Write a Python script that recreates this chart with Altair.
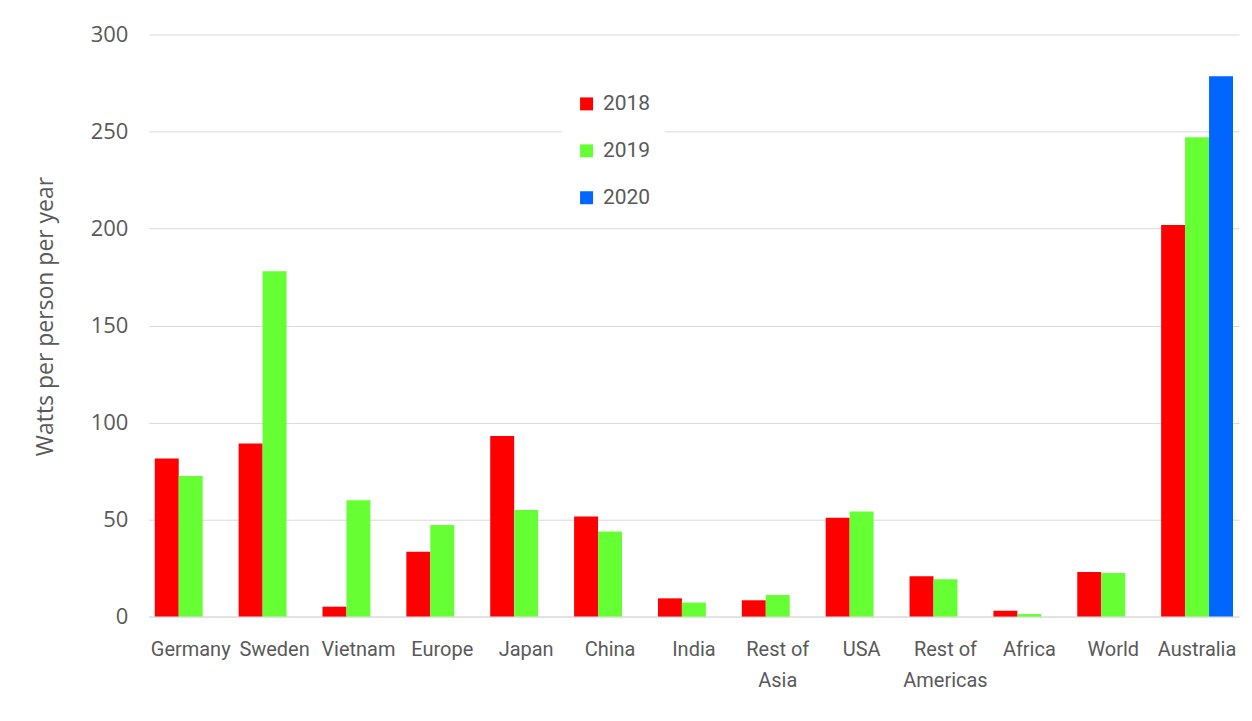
import altair as alt
import pandas as pd

categories = ["Germany", "Sweden", "Vietnam", "Europe", "Japan", "China", "India",
              "Rest of Asia", "USA", "Rest of Americas", "Africa", "World", "Australia"]
years = ["2018", "2019", "2020"]
values_2018 = [81.5, 89.2, 5.1, 33.4, 93.1, 51.6, 9.4, 8.4, 50.9, 20.8, 3.0, 23.0, 201.8]
values_2019 = [72.5, 178.0, 59.9, 47.2, 54.9, 43.9, 7.2, 11.1, 54.2, 19.2, 1.3, 22.5, 247.1]
values_2020 = [None] * 12 + [278.5]
colors = ["#FF0000", "#66FF33", "#0066FF"]

rows = []
for year, vals in zip(years, [values_2018, values_2019, values_2020]):
    for c, v in zip(categories, vals):
        if v is not None:
            rows.append({"category": c, "year": year, "value": v})
df = pd.DataFrame(rows)

label_font = "Roboto"
grey = "#595959"

chart = alt.Chart(df).mark_bar().encode(
    x=alt.X(
        "category:N", sort=categories, title=None,
        scale=alt.Scale(paddingInner=0.143, paddingOuter=0.0715),
        axis=alt.Axis(
            labelAngle=0, ticks=False, domainColor="#d9d9d9", labelFont=label_font,
            labelFontSize=20, labelColor=grey, labelPadding=23, labelLineHeight=31,
            labelExpr="indexof(datum.label, 'Rest of ') == 0 ? ['Rest of', substring(datum.label, 8)] : datum.label",
        ),
    ),
    xOffset=alt.XOffset("year:N", scale=alt.Scale(domain=years, paddingInner=0, paddingOuter=0)),
    y=alt.Y(
        "value:Q", scale=alt.Scale(domain=[0, 300]),
        title="Watts per person per year",
        axis=alt.Axis(
            values=[0, 50, 100, 150, 200, 250, 300], ticks=False, domain=False,
            gridColor="#d9d9d9", labelFont="Open Sans", labelFontSize=22, labelColor=grey,
            labelPadding=21, titleFont="Open Sans", titleFontSize=23, titleFontWeight="normal",
            titleColor=grey, titleX=-103, titleY=282, titleBaseline="middle", titleAngle=-90,
        ),
    ),
    color=alt.Color(
        "year:N", scale=alt.Scale(domain=years, range=colors),
        legend=alt.Legend(
            title=None, orient="none", legendX=414, legendY=45, fillColor="white",
            padding=14, symbolType="square", symbolSize=169, symbolStrokeWidth=0,
            labelFont=label_font, labelFontSize=21, labelColor=grey, rowPadding=25,
            labelOffset=6,
        ),
    ),
).properties(
    width=1092, height=583,
    autosize=alt.AutoSizeParams(type="none"),
    padding={"left": 141, "top": 26, "right": 5, "bottom": 80},
).configure_view(stroke=None)

chart.save("out.html", embed_options={"renderer": "svg", "actions": False})
